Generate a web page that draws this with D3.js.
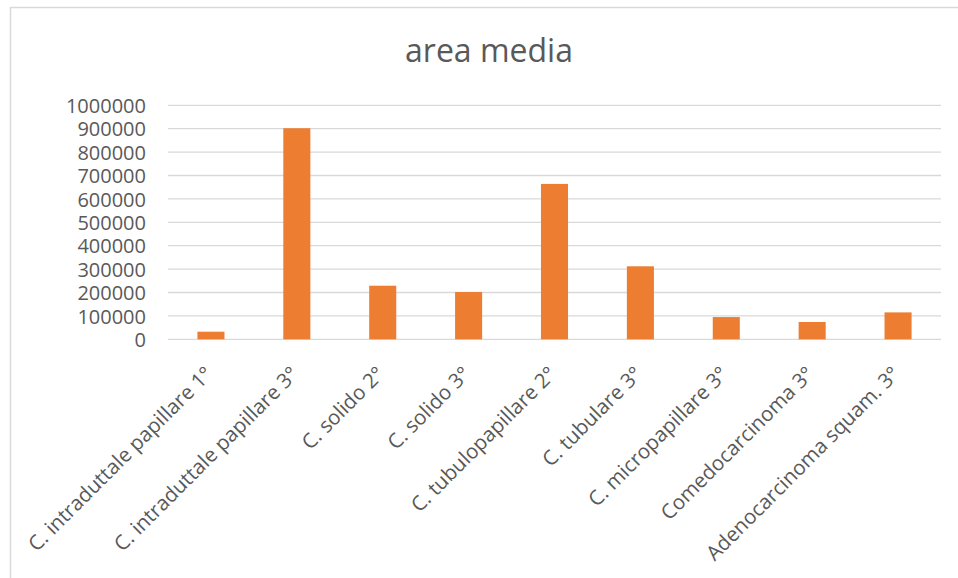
<!DOCTYPE html>
<html>
<head>
<meta charset="utf-8">
<script src="https://cdn.jsdelivr.net/npm/d3@7"></script>
<style>
  body { margin: 0; background: #fff; }
  text { font-family: "Open Sans", sans-serif; fill: #595959; }
</style>
</head>
<body>
<div id="chart"></div>
<script>
//Data
let categories = ["C. intraduttale papillare 1°", "C. intraduttale papillare 3°", "C. solido 2°", "C. solido 3°",
  "C. tubulopapillare 2°", "C. tubulare 3°", "C. micropapillare 3°", "Comedocarcinoma 3°", "Adenocarcinoma squam. 3°"];
let values = [32500, 902000, 229000, 202000, 664000, 312000, 95000, 74000, 115000];
let yTicks = [0, 100000, 200000, 300000, 400000, 500000, 600000, 700000, 800000, 900000, 1000000];
let title = "area media";

//Layout
let width = 958, height = 578,
    plot = {left: 168, right: 941, top: 105.3, bottom: 339.3};

let svg = d3.select("#chart").append("svg")
  .attr("width", width)
  .attr("height", height);

//Chart border (only left + top visible in the frame)
svg.append("path")
  .attr("d", "M10.5,600 V7.5 H970")
  .attr("fill", "none")
  .attr("stroke", "#d9d9d9")
  .attr("stroke-width", 1.5);

let x = d3.scaleBand()
  .domain(categories)
  .range([plot.left, plot.right])
  .paddingInner(0.685)
  .paddingOuter(0.3425);

let y = d3.scaleLinear()
  .domain([0, 1000000])
  .range([plot.bottom, plot.top]);

//Gridlines
svg.append("g")
  .selectAll("line")
  .data(yTicks)
  .enter().append("line")
    .attr("x1", plot.left)
    .attr("x2", plot.right)
    .attr("y1", d => y(d))
    .attr("y2", d => y(d))
    .attr("stroke", "#d9d9d9")
    .attr("stroke-width", 1.3);

//Y axis labels
let yAxis = svg.append("g")
  .attr("transform", "translate(" + (plot.left - 22) + ",0)")
  .call(d3.axisLeft(y).tickValues(yTicks).tickSize(0).tickPadding(0).tickFormat(d3.format("d")));
yAxis.select(".domain").remove();
yAxis.selectAll("text")
  .attr("font-size", "20px")
  .attr("font-family", "Open Sans, sans-serif")
  .attr("fill", "#595959")
  .attr("dy", "0.36em");

//Bars
svg.append("g")
  .selectAll("rect")
  .data(values)
  .enter().append("rect")
    .attr("x", (d, i) => x(categories[i]))
    .attr("width", x.bandwidth())
    .attr("y", d => y(d))
    .attr("height", d => y(0) - y(d))
    .attr("fill", "#ed7d31");

//X axis labels, rotated
let xAxis = svg.append("g")
  .attr("transform", "translate(0," + plot.bottom + ")")
  .call(d3.axisBottom(x).tickSize(0).tickPadding(0));
xAxis.select(".domain").remove();
xAxis.selectAll("text")
  .attr("font-size", "20.5px")
  .attr("font-family", "Open Sans, sans-serif")
  .attr("fill", "#595959")
  .attr("text-anchor", "end")
  .attr("dy", null)
  .attr("y", 0)
  .attr("transform", "translate(3,36) rotate(-45)");

//Title
svg.append("text")
  .attr("x", 489)
  .attr("y", 61.7)
  .attr("text-anchor", "middle")
  .attr("font-size", "32px")
  .attr("fill", "#595959")
  .text(title);
</script>
</body>
</html>
